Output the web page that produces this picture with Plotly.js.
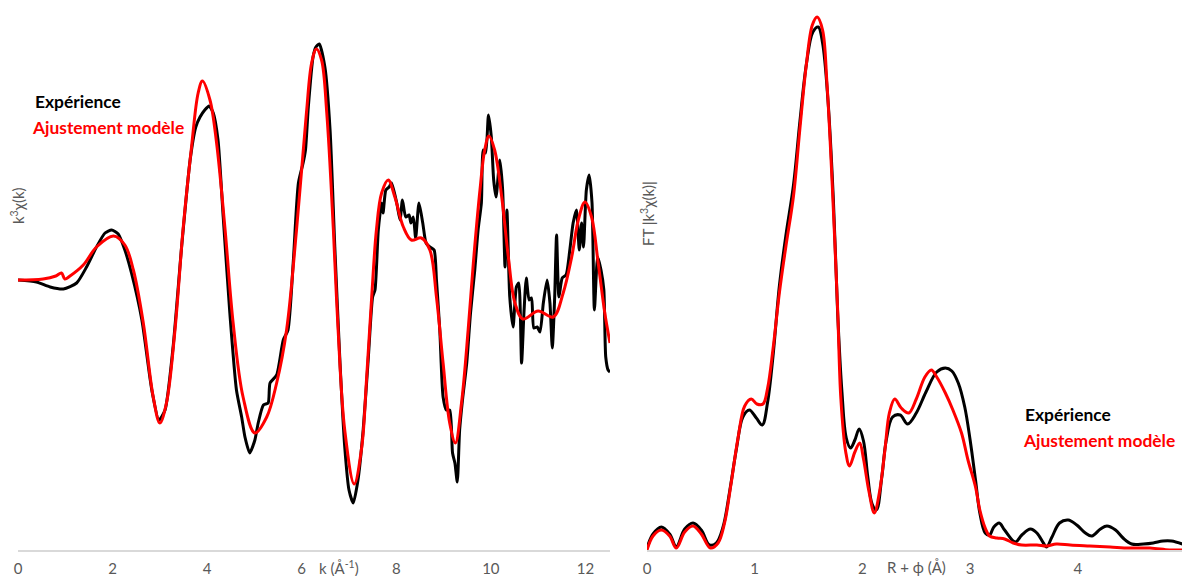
<!DOCTYPE html>
<html>
<head>
<meta charset="utf-8">
<script src="https://cdn.plot.ly/plotly-3.0.1.min.js"></script>
<style>
html,body{margin:0;padding:0;background:#fff;}
#chart{width:1182px;height:576px;}
</style>
</head>
<body>
<div id="chart"></div>
<script>
// ---- Left panel: k^3 chi(k) vs k ----
const kExp = [0,0.39,0.68,0.96,1.24,1.45,1.66,1.84,1.98,2.12,2.26,2.40,2.62,2.83,2.98,3.11,3.28,3.46,3.64,3.76,3.85,3.95,4.04,4.13,4.23,4.34,4.48,4.62,4.73,4.80,4.90,5.01,5.08,5.19,5.29,5.33,5.47,5.61,5.71,5.82,5.93,6.03,6.08,6.14,6.24,6.30,6.37,6.49,6.60,6.70,6.81,6.91,7.00,7.09,7.19,7.30,7.41,7.50,7.55,7.62,7.69,7.72,7.78,7.85,7.90,8.01,8.08,8.13,8.20,8.27,8.31,8.36,8.41,8.48,8.56,8.63,8.71,8.80,8.85,8.92,8.99,9.06,9.13,9.19,9.24,9.29,9.34,9.40,9.49,9.57,9.66,9.73,9.80,9.84,9.89,9.95,10.01,10.06,10.11,10.19,10.25,10.30,10.34,10.40,10.47,10.54,10.59,10.65,10.70,10.75,10.81,10.86,10.91,10.98,11.04,11.11,11.19,11.25,11.30,11.35,11.39,11.44,11.51,11.59,11.67,11.74,11.81,11.87,11.92,11.96,12.02,12.08,12.14,12.19,12.26,12.33,12.39,12.43,12.48,12.52];
const chiExp = [0,-0.02,-0.07,-0.09,-0.03,0.13,0.33,0.47,0.50,0.46,0.30,0.07,-0.40,-1.10,-1.40,-1.30,-0.67,0.33,1.20,1.53,1.63,1.70,1.74,1.67,1.40,0.63,-0.33,-1.10,-1.37,-1.57,-1.73,-1.60,-1.43,-1.25,-1.23,-1.03,-0.95,-0.60,-0.50,0.17,0.97,1.17,1.30,1.73,2.23,2.33,2.36,2.13,1.50,0.33,-0.83,-1.67,-2.10,-2.23,-2.00,-1.50,-0.77,-0.17,-0.10,0.50,0.77,0.67,0.90,0.93,0.97,0.77,0.60,0.80,0.63,0.65,0.57,0.63,0.42,0.77,0.57,0.37,0.33,0.30,0.00,-0.50,-1.17,-1.30,-1.30,-1.73,-1.83,-2.02,-1.50,-1.20,-0.83,-0.33,0.10,0.50,0.77,1.30,1.27,1.65,1.43,1.00,0.83,1.20,0.90,0.13,0.70,-0.17,-0.47,-0.07,-0.03,-0.83,-0.33,0.02,-0.20,-0.18,-0.48,-0.47,-0.52,-0.23,0.00,-0.23,-0.68,-0.17,0.45,-0.17,0.02,0.05,0.30,0.57,0.70,0.30,0.57,0.33,0.90,1.05,0.77,-0.30,0.23,0.10,-0.10,-0.77,-0.90,-0.92];

const kFit = [0,0.53,0.80,0.92,0.99,1.10,1.38,1.66,2.02,2.26,2.44,2.65,2.86,3.00,3.14,3.32,3.49,3.67,3.81,3.90,4.06,4.20,4.38,4.55,4.76,5.01,5.26,5.47,5.68,5.89,6.10,6.21,6.31,6.42,6.53,6.67,6.77,6.91,7.11,7.27,7.37,7.48,7.58,7.69,7.83,7.97,8.15,8.32,8.53,8.71,8.85,8.99,9.13,9.25,9.38,9.52,9.63,9.77,9.87,9.96,10.08,10.23,10.37,10.51,10.68,11.00,11.32,11.53,11.71,11.85,11.99,12.13,12.27,12.41,12.52];
const chiFit = [0,0.01,0.04,0.07,0.01,0.04,0.15,0.33,0.44,0.35,0.10,-0.43,-1.17,-1.43,-1.23,-0.50,0.50,1.33,1.87,1.99,1.80,1.37,0.50,-0.43,-1.17,-1.53,-1.37,-1.03,-0.50,0.50,1.67,2.17,2.31,2.20,1.67,0.50,-0.50,-1.50,-2.04,-1.67,-1.00,-0.17,0.50,0.87,1.00,0.83,0.53,0.40,0.42,0.30,-0.17,-0.83,-1.43,-1.63,-1.23,-0.50,0.17,0.90,1.30,1.44,1.30,0.83,0.23,-0.23,-0.39,-0.31,-0.37,-0.13,0.23,0.60,0.78,0.63,0.17,-0.33,-0.63];

// ---- Right panel: FT |k^3 chi(k)| vs R + phi ----
const rExp = [0,0.056,0.133,0.21,0.272,0.35,0.427,0.504,0.58,0.643,0.706,0.768,0.83,0.89,0.95,1.015,1.07,1.12,1.17,1.23,1.29,1.36,1.42,1.48,1.54,1.59,1.63,1.68,1.73,1.77,1.81,1.85,1.89,1.93,1.97,2.01,2.05,2.09,2.13,2.18,2.22,2.28,2.35,2.42,2.50,2.59,2.69,2.77,2.83,2.89,2.95,3.00,3.05,3.09,3.14,3.18,3.22,3.27,3.32,3.42,3.48,3.56,3.62,3.68,3.71,3.76,3.83,3.91,3.99,4.07,4.13,4.21,4.27,4.35,4.42,4.50,4.61,4.70,4.79,4.87,4.97];
const ftExp = [0.02,0.16,0.23,0.16,0.035,0.21,0.27,0.20,0.05,0.07,0.23,0.59,1.01,1.33,1.40,1.32,1.25,1.48,1.94,2.65,3.15,3.65,4.29,4.86,5.18,5.23,5.07,4.50,3.51,2.37,1.58,1.12,1.02,1.10,1.21,1.09,0.73,0.46,0.40,0.73,1.09,1.33,1.35,1.26,1.37,1.58,1.78,1.82,1.79,1.67,1.43,1.10,0.70,0.37,0.17,0.15,0.23,0.27,0.20,0.08,0.15,0.21,0.17,0.07,0.03,0.13,0.27,0.30,0.25,0.17,0.14,0.21,0.24,0.20,0.12,0.06,0.06,0.07,0.09,0.09,0.06];

const rFit = [0,0.056,0.133,0.21,0.272,0.35,0.427,0.504,0.588,0.66,0.72,0.78,0.845,0.907,0.968,1.02,1.077,1.12,1.17,1.23,1.29,1.36,1.42,1.48,1.535,1.58,1.63,1.67,1.72,1.77,1.80,1.845,1.88,1.93,1.975,2.01,2.06,2.11,2.16,2.21,2.25,2.30,2.36,2.43,2.50,2.58,2.64,2.69,2.77,2.84,2.92,2.98,3.05,3.09,3.14,3.18,3.25,3.32,3.40,3.48,3.62,3.71,3.80,3.93,4.11,4.30,4.48,4.67,4.85,4.97];
const ftFit = [0.0,0.14,0.20,0.14,0.02,0.18,0.24,0.16,0.02,0.07,0.27,0.66,1.12,1.44,1.51,1.46,1.46,1.62,2.01,2.58,3.04,3.54,4.22,4.86,5.25,5.33,5.20,4.68,3.65,2.40,1.51,0.98,0.84,0.98,1.07,0.91,0.59,0.37,0.59,1.01,1.37,1.51,1.42,1.37,1.51,1.73,1.80,1.73,1.57,1.40,1.17,0.90,0.63,0.40,0.22,0.14,0.12,0.11,0.07,0.05,0.05,0.04,0.06,0.05,0.04,0.03,0.02,0.02,0.0,0.0];

const kTicks = [0,2,4,6,8,10,12];
const rTicks = [0,1,2,3,4];

const labelExp = "Expérience";
const labelFit = "Ajustement modèle";

const W = 1182;
const axisGrey = '#595959';
const tickFont = {family: 'Lato, "Liberation Sans", sans-serif', size: 15, color: axisGrey};

const traces = [
  {x: kExp, y: chiExp, xaxis: 'x', yaxis: 'y', mode: 'lines', name: labelExp,
   line: {color: '#000000', width: 3, shape: 'spline', smoothing: 0.6}},
  {x: kFit, y: chiFit, xaxis: 'x', yaxis: 'y', mode: 'lines', name: labelFit,
   line: {color: '#ff0000', width: 3, shape: 'spline', smoothing: 1}},
  {x: rExp, y: ftExp, xaxis: 'x2', yaxis: 'y2', mode: 'lines', name: labelExp,
   line: {color: '#000000', width: 3, shape: 'spline', smoothing: 1}},
  {x: rFit, y: ftFit, xaxis: 'x2', yaxis: 'y2', mode: 'lines', name: labelFit,
   line: {color: '#ff0000', width: 3, shape: 'spline', smoothing: 1}}
];

const xCommon = {
  showgrid: false, zeroline: false, showline: true, linecolor: '#d9d9d9', linewidth: 1.5,
  ticks: 'outside', ticklen: 4, tickcolor: 'rgba(0,0,0,0)', tickfont: tickFont, fixedrange: true
};
const yCommon = {showgrid: false, zeroline: false, showline: false, showticklabels: false, ticks: '', fixedrange: true};

const legFont = (c) => ({family: 'Lato, "Liberation Sans", sans-serif', size: 17.4, color: c});
const titleFont = {family: 'Lato, "Liberation Sans", sans-serif', size: 15, color: axisGrey};

const layout = {
  width: 1182, height: 576,
  margin: {l: 0, r: 0, t: 0, b: 26, pad: 0},
  paper_bgcolor: '#ffffff', plot_bgcolor: '#ffffff',
  showlegend: false,
  xaxis: Object.assign({}, xCommon, {domain: [18/W, 610/W], range: [0, 12.52], tickvals: kTicks, anchor: 'y'}),
  yaxis: Object.assign({}, yCommon, {domain: [0, 1], range: [-2.70, 2.80], anchor: 'x'}),
  xaxis2: Object.assign({}, xCommon, {domain: [647/W, 1], range: [0, 4.967], tickvals: rTicks, anchor: 'y2'}),
  yaxis2: Object.assign({}, yCommon, {domain: [0, 1], range: [0, 5.5], anchor: 'x2'}),
  annotations: [
    {xref: 'paper', yref: 'paper', x: 33/W, y: (550-102)/550, xanchor: 'left', yanchor: 'middle', showarrow: false,
     text: '<b>' + labelExp + '</b>', font: legFont('#000000')},
    {xref: 'paper', yref: 'paper', x: 30/W, y: (550-127)/550, xanchor: 'left', yanchor: 'middle', showarrow: false,
     text: '<b>' + labelFit + '</b>', font: legFont('#ff0000')},
    {xref: 'paper', yref: 'paper', x: 1023/W, y: (550-414)/550, xanchor: 'left', yanchor: 'middle', showarrow: false,
     text: '<b>' + labelExp + '</b>', font: legFont('#000000')},
    {xref: 'paper', yref: 'paper', x: 1021/W, y: (550-441)/550, xanchor: 'left', yanchor: 'middle', showarrow: false,
     text: '<b>' + labelFit + '</b>', font: legFont('#ff0000')},
    {xref: 'paper', yref: 'paper', x: 339/W, y: (550-567)/550, xanchor: 'center', yanchor: 'middle', showarrow: false,
     text: 'k (Å<sup>-1</sup>)', font: titleFont},
    {xref: 'paper', yref: 'paper', x: 916/W, y: (550-567)/550, xanchor: 'center', yanchor: 'middle', showarrow: false,
     text: 'R + ϕ (Å)', font: titleFont},
    {xref: 'paper', yref: 'paper', x: 18/W, y: (550-206)/550, xanchor: 'center', yanchor: 'middle', showarrow: false,
     textangle: -90, text: 'k<sup>3</sup>χ(k)', font: titleFont},
    {xref: 'paper', yref: 'paper', x: 648/W, y: (550-214)/550, xanchor: 'center', yanchor: 'middle', showarrow: false,
     textangle: -90, text: 'FT |k<sup>3</sup>χ(k)|', font: titleFont}
  ]
};

Plotly.newPlot('chart', traces, layout, {displayModeBar: false, staticPlot: true});
</script>
</body>
</html>
